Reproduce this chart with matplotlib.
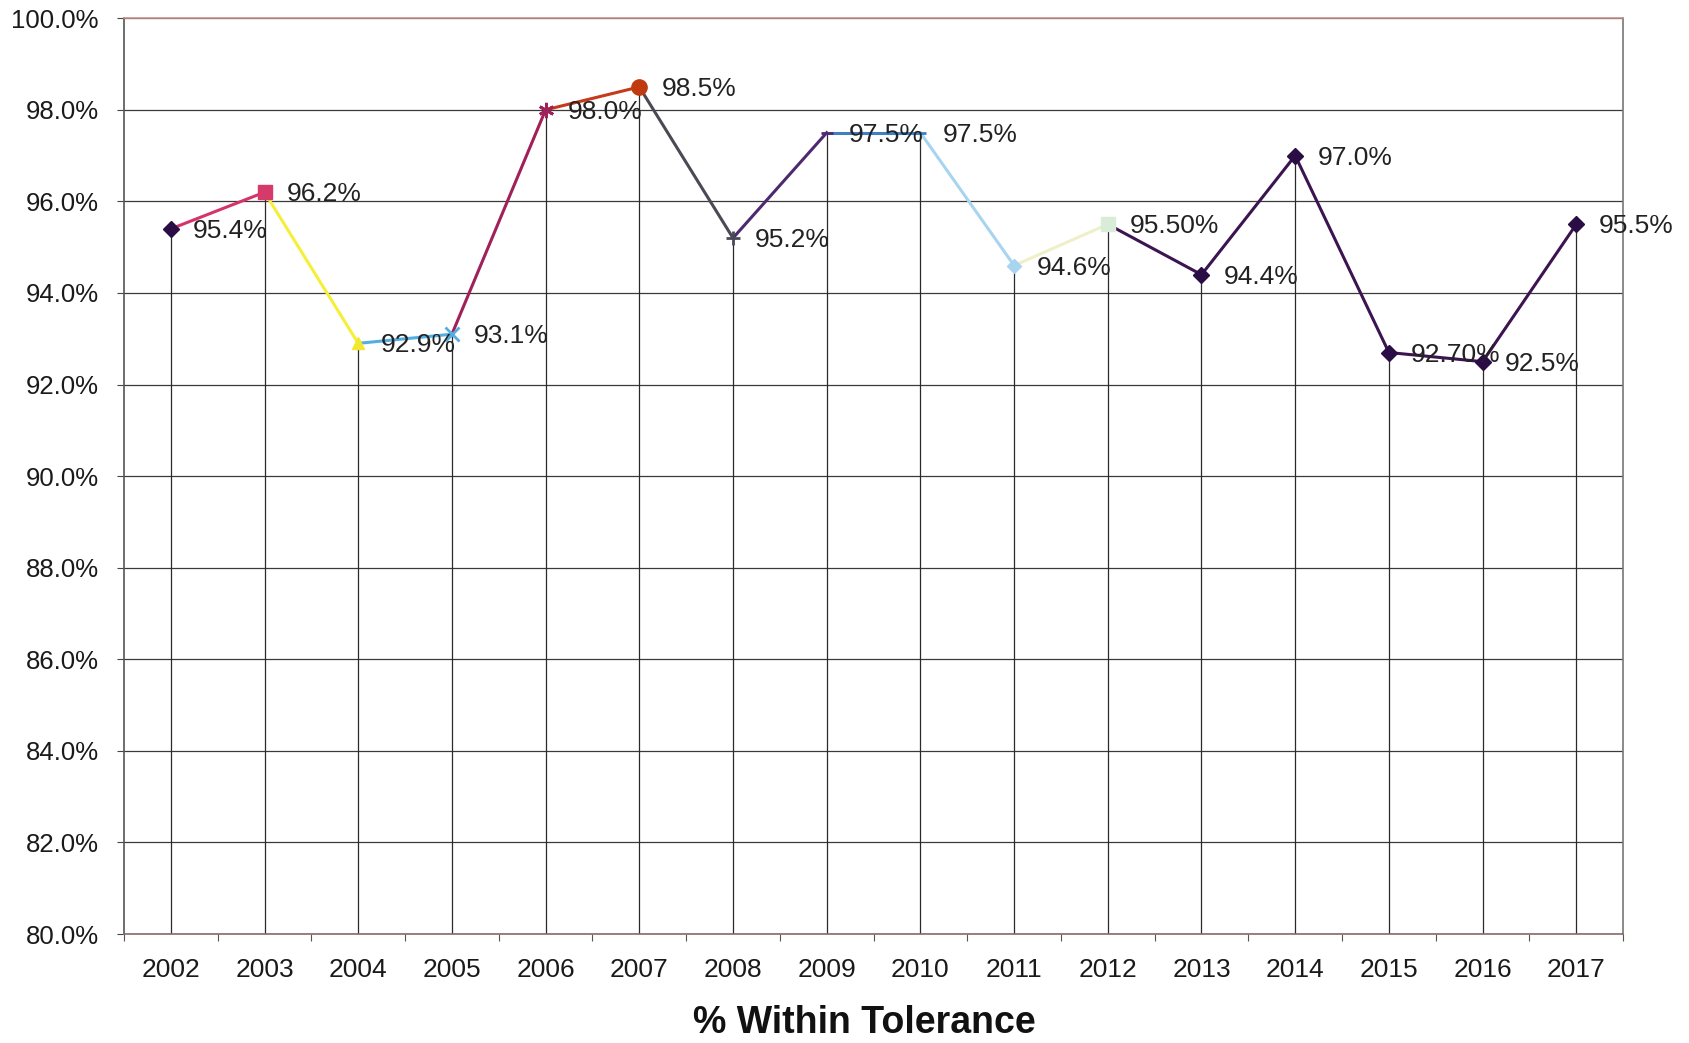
import matplotlib
matplotlib.use("Agg")
import matplotlib.pyplot as plt
from matplotlib.ticker import FuncFormatter, MultipleLocator

plt.rcParams['font.family'] = ['Liberation Sans', 'DejaVu Sans']

# data
years = ['2002', '2003', '2004', '2005', '2006', '2007', '2008', '2009',
         '2010', '2011', '2012', '2013', '2014', '2015', '2016', '2017']
values = [95.4, 96.2, 92.9, 93.1, 98.0, 98.5, 95.2, 97.5,
          97.5, 94.6, 95.5, 94.4, 97.0, 92.7, 92.5, 95.5]
labels = ['95.4%', '96.2%', '92.9%', '93.1%', '98.0%', '98.5%', '95.2%', '97.5%',
          '97.5%', '94.6%', '95.50%', '94.4%', '97.0%', '92.70%', '92.5%', '95.5%']

# each segment (point i -> i+1) has its own colour, as in the original sheet
seg_colors = ['#d6336c', '#f5ef3a', '#55aee0', '#a0205a', '#c43a1a', '#4a4a55',
              '#4d2a70', '#3f7fc4', '#a8d4f0', '#eef0c8', '#3b1450', '#3b1450',
              '#3b1450', '#3b1450', '#3b1450']
markers = ['D', 's', '^', 'x', (6, 2, 0), 'o', '+', '_', '_', 'D', 's',
           'D', 'D', 'D', 'D', 'D']
marker_colors = ['#2b0d45', '#d63a6a', '#f2e830', '#55aee0', '#a0205a', '#c03a10',
                 '#4a4a55', '#4d2a70', '#3f7fc4', '#a8d4f0', '#d8ecd8',
                 '#2b0d45', '#2b0d45', '#2b0d45', '#2b0d45', '#2b0d45']
marker_sizes = [8, 10, 9, 10, 11, 11, 10, 8, 8, 7, 10, 8, 8, 8, 8, 8]

fig = plt.figure(figsize=(16.89, 10.43), dpi=100)
ax = fig.add_axes([0.0734, 0.1045, 0.8876, 0.878])

x = list(range(len(years)))

ax.set_xlim(-0.5, len(years) - 0.5)
ax.set_ylim(80, 100)

# horizontal gridlines
ax.yaxis.set_major_locator(MultipleLocator(2))
ax.grid(axis='y', color='#3a3a3a', linewidth=0.9)
ax.set_axisbelow(True)

# drop lines from each point down to the axis
ax.vlines(x, 80, values, color='#2a2a2a', linewidth=0.9, zorder=2)

for i in range(len(x) - 1):
    ax.plot(x[i:i + 2], values[i:i + 2], color=seg_colors[i], linewidth=2.2, zorder=3)

for i in range(len(x)):
    mk = markers[i]
    ax.plot(x[i], values[i], marker=mk, markersize=marker_sizes[i],
            color=marker_colors[i], markeredgewidth=2 if mk in ('x', '+', '_') or isinstance(mk, tuple) else 1,
            linestyle='none', zorder=4)
    ax.annotate(labels[i], (x[i], values[i]), xytext=(16, -1.5),
                textcoords='offset points', ha='left', va='center',
                fontsize=19, color='#222222', zorder=5)

ax.yaxis.set_major_formatter(FuncFormatter(lambda v, p: f'{v:.1f}%'))
ax.set_xticks(x)
ax.set_xticklabels(years)
ax.set_xticks([i + 0.5 for i in range(-1, len(years))], minor=True)
ax.tick_params(axis='x', which='major', length=0, pad=17, labelsize=19, labelcolor='#1a1a1a')
ax.tick_params(axis='x', which='minor', length=5, width=0.8, color='#555555', direction='out')
ax.tick_params(axis='y', length=5, width=0.8, color='#444444', pad=13, labelsize=18.5,
               labelcolor='#1a1a1a')

ax.spines['top'].set_color('#c89090')
ax.spines['bottom'].set_color('#8a6a6a')
ax.spines['left'].set_color('#555555')
ax.spines['right'].set_color('#777777')
for s in ax.spines.values():
    s.set_linewidth(1.2)

fig.text(0.512, 0.019, '% Within Tolerance', ha='center', va='center',
         fontsize=27, fontweight='bold', color='#111111')

fig.savefig('out.png', dpi=100, facecolor='white')
